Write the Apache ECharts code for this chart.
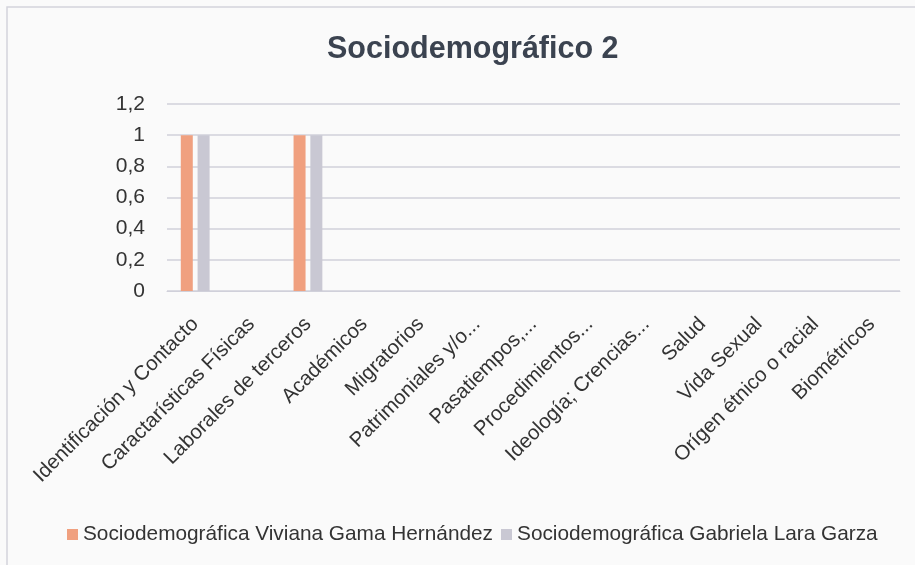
<!DOCTYPE html>
<html>
<head>
<meta charset="utf-8">
<script src="https://cdn.jsdelivr.net/npm/echarts@6/dist/echarts.min.js"></script>
<style>
    html, body { margin: 0; padding: 0; background: #fafafa; }
    #chart { width: 915px; height: 565px; }
</style>
</head>
<body>
<div id="chart"></div>
<script>
// datos
const categorias = [
    'Identificación y Contacto', 'Caractarísticas Físicas', 'Laborales de terceros',
    'Académicos', 'Migratorios', 'Patrimoniales y/o...', 'Pasatiempos,...',
    'Procedimientos...', 'Ideología; Crencias...', 'Salud', 'Vida Sexual',
    'Orígen étnico o racial', 'Biométricos'
];
const viviana = [1, 0, 1, 0, 0, 0, 0, 0, 0, 0, 0, 0, 0];
const gabriela = [1, 0, 1, 0, 0, 0, 0, 0, 0, 0, 0, 0, 0];
const ticksY = [0, 0.2, 0.4, 0.6, 0.8, 1, 1.2];

document.addEventListener('DOMContentLoaded', function () {

    let el = document.getElementById('chart');
    let chart = echarts.init(el);
    let fuente = 'Liberation Sans';

    chart.setOption({
        backgroundColor: '#fafafa',
        animation: false,
        title: {
            text: 'Sociodemográfico 2',
            left: 322,
            top: 29,
            textStyle: {
                fontFamily: fuente,
                fontSize: 30.5,
                fontWeight: 'bold',
                color: '#3b4350'
            }
        },
        graphic: [{
            type: 'rect',
            shape: { x: 7, y: 7, width: 915, height: 600 },
            style: { fill: 'none', stroke: '#d4d4dc', lineWidth: 1.5 }
        }],
        legend: {
            bottom: 15,
            left: 62,
            itemWidth: 11,
            itemHeight: 11,
            itemGap: 8,
            icon: 'rect',
            textStyle: { fontFamily: fuente, fontSize: 20.8, color: '#333' }
        },
        grid: { left: 167, right: 15, top: 104, bottom: 274 },
        xAxis: {
            type: 'category',
            data: categorias,
            axisLine: { lineStyle: { color: '#d0d0da' } },
            axisTick: { show: false },
            axisLabel: {
                interval: 0,
                rotate: 45,
                margin: 30,
                fontFamily: fuente,
                fontSize: 20.5,
                color: '#333'
            }
        },
        yAxis: {
            type: 'value',
            min: ticksY[0],
            max: ticksY[ticksY.length - 1],
            interval: 0.2,
            axisLine: { show: false },
            axisTick: { show: false },
            splitLine: { lineStyle: { color: '#d0d0da', width: 1.5 } },
            axisLabel: {
                margin: 22,
                fontFamily: fuente,
                fontSize: 21,
                color: '#333',
                formatter: function (v) {
                    return String(Math.round(v * 10) / 10).replace('.', ',');
                }
            }
        },
        series: [
            {
                name: 'Sociodemográfica Viviana Gama Hernández',
                type: 'bar',
                data: viviana,
                barWidth: 12,
                barGap: '40%',
                itemStyle: { color: '#f0a07f' }
            },
            {
                name: 'Sociodemográfica Gabriela Lara Garza',
                type: 'bar',
                data: gabriela,
                barWidth: 12,
                itemStyle: { color: '#c9c8d3' }
            }
        ]
    });

});
</script>
</body>
</html>
